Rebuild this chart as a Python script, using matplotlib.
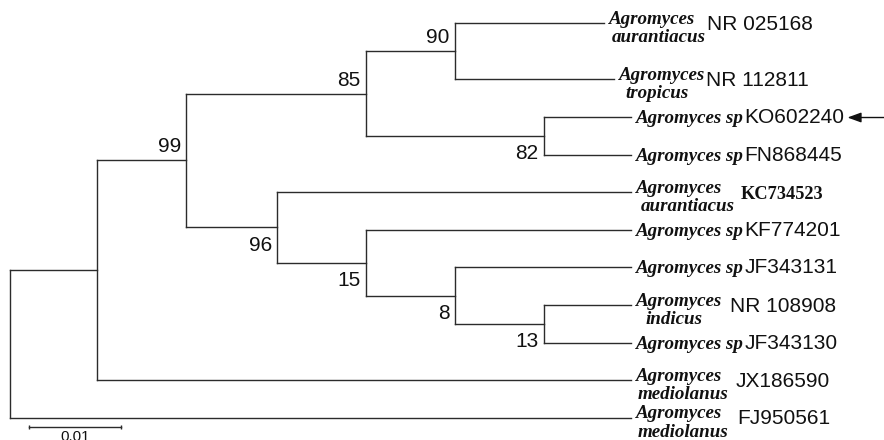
import matplotlib.pyplot as plt

# Internal nodes, listed parents first (branch lengths in substitutions/site)
inner = ['A', 'n99', 'n85', 'n90', 'n82', 'n96', 'n15', 'n8', 'n13']
inner_parent = ['root', 'A', 'n99', 'n85', 'n85', 'n99', 'n96', 'n15', 'n8']
inner_len = [0.0095, 0.0097, 0.0196, 0.0097, 0.0194, 0.0099, 0.0097, 0.0097, 0.0097]
bootstrap = [None, 99, 85, 90, 82, 96, 15, 8, 13]

# Leaves, top to bottom
accession = ['NR 025168', 'NR 112811', 'KO602240', 'FN868445', 'KC734523',
             'KF774201', 'JF343131', 'NR 108908', 'JF343130', 'JX186590', 'FJ950561']
species = ['aurantiacus', 'tropicus', 'sp', 'sp', 'aurantiacus',
           'sp', 'sp', 'indicus', 'sp', 'mediolanus', 'mediolanus']
leaf_parent = ['n90', 'n90', 'n82', 'n82', 'n96', 'n15', 'n8', 'n13', 'n13', 'A', 'root']
leaf_len = [0.0163, 0.0174, 0.0095, 0.0095, 0.0386, 0.0289, 0.0192, 0.0095, 0.0095,
            0.0582, 0.0677]

scale_len = 0.01

# layout
leaf_row = [0, 1.5, 2.5, 3.5, 4.5, 5.5, 6.5, 7.5, 8.5, 9.5, 10.5]
boot_above = [None, True, True, True, False, False, False, False, False]
second_dx = [3, 6, 0, 0, 5, 0, 0, 10, 0, 2, 2]
acc_gap = [12, 0, 1, 1, 19, 1, 1, 8, 1, 14, 15]
marked = 'KO602240'

px_per_unit = 9170.0
line_col = '#2b2b2b'
text_col = '#111111'
genus_font = dict(family='Liberation Serif', style='italic', weight='bold', size=13.7)
acc_font = dict(family='Liberation Sans', size=15)

# depths and rows
depth = {'root': 0.0}
for n, p, l in zip(inner, inner_parent, inner_len):
    depth[n] = depth[p] + l
children = {n: [] for n in ['root'] + inner}
for n, p in zip(inner, inner_parent):
    children[p].append(n)
ypos = {}
for i, (acc, p, l) in enumerate(zip(accession, leaf_parent, leaf_len)):
    depth[acc] = depth[p] + l
    ypos[acc] = leaf_row[i]
    children[p].append(acc)
parent = dict(zip(inner, inner_parent))
parent.update(dict(zip(accession, leaf_parent)))
for n in reversed(['root'] + inner):
    ys = [ypos[c] for c in children[n]]
    ypos[n] = (min(ys) + max(ys)) / 2

fig = plt.figure(figsize=(8.84, 4.40), dpi=100)
ax = fig.add_axes([0, 0, 1, 1])
ax.set_xlim(-10 / px_per_unit, 874 / px_per_unit)
ax.set_ylim(11.09, -0.612)
ax.axis('off')

# branches
for n, p in parent.items():
    ax.plot([depth[p], depth[n]], [ypos[n], ypos[n]], color=line_col, lw=1.0)
for n, ch in children.items():
    ys = [ypos[c] for c in ch]
    ax.plot([depth[n], depth[n]], [min(ys), max(ys)], color=line_col, lw=1.0)

# bootstrap values
for n, b, up in zip(inner, bootstrap, boot_above):
    if b is None:
        continue
    ax.annotate(str(b), xy=(depth[n], ypos[n]), xytext=(-5, 8 if up else -23.5),
                textcoords='offset pixels', ha='right', va='baseline',
                color=text_col, **acc_font)

# leaf labels
for i, acc in enumerate(accession):
    x, y = depth[acc], ypos[acc]
    sp = species[i]
    if sp == 'sp':
        g = ax.annotate('Agromyces sp', xy=(x, y), xytext=(5, -6), textcoords='offset pixels',
                        ha='left', va='baseline', color=text_col, **genus_font)
        acc_dy = 0
    else:
        g = ax.annotate('Agromyces', xy=(x, y), xytext=(5, -0.5), textcoords='offset pixels',
                        ha='left', va='baseline', color=text_col, **genus_font)
        ax.annotate(sp, xy=(x, y), xytext=(5 + second_dx[i], -19), textcoords='offset pixels',
                    ha='left', va='baseline', color=text_col, **genus_font)
        acc_dy = -6
    base = -6 if sp == 'sp' else -0.5
    if acc == 'KC734523':
        font = dict(family='Liberation Serif', weight='bold', size=13.2)
    else:
        font = acc_font
    t = ax.annotate(acc, xy=(1, y), xycoords=(g, 'data'),
                    xytext=(acc_gap[i], base + acc_dy), textcoords='offset pixels',
                    ha='left', va='baseline', color=text_col, **font)
    if acc == marked:
        ax.annotate('', xy=(1, 0.5), xycoords=t, xytext=(1.0, 0.5),
                    textcoords=('axes fraction', t),
                    arrowprops=dict(arrowstyle='-|>,head_length=0.55,head_width=0.2',
                                    mutation_scale=15, color=text_col, lw=1.0,
                                    shrinkA=0, shrinkB=2))

# scale bar
sx0, sy = 0.0021, 10.75
ax.plot([sx0, sx0 + scale_len], [sy, sy], color=line_col, lw=1.0,
        marker='|', markersize=3.5, markeredgewidth=1.0)
ax.annotate(f'{scale_len:g}', xy=(sx0 + scale_len / 2, sy), xytext=(0, -3),
            textcoords='offset pixels', ha='center', va='top', color=text_col,
            family='Liberation Sans', size=11)

fig.savefig('out.png', dpi=100)
